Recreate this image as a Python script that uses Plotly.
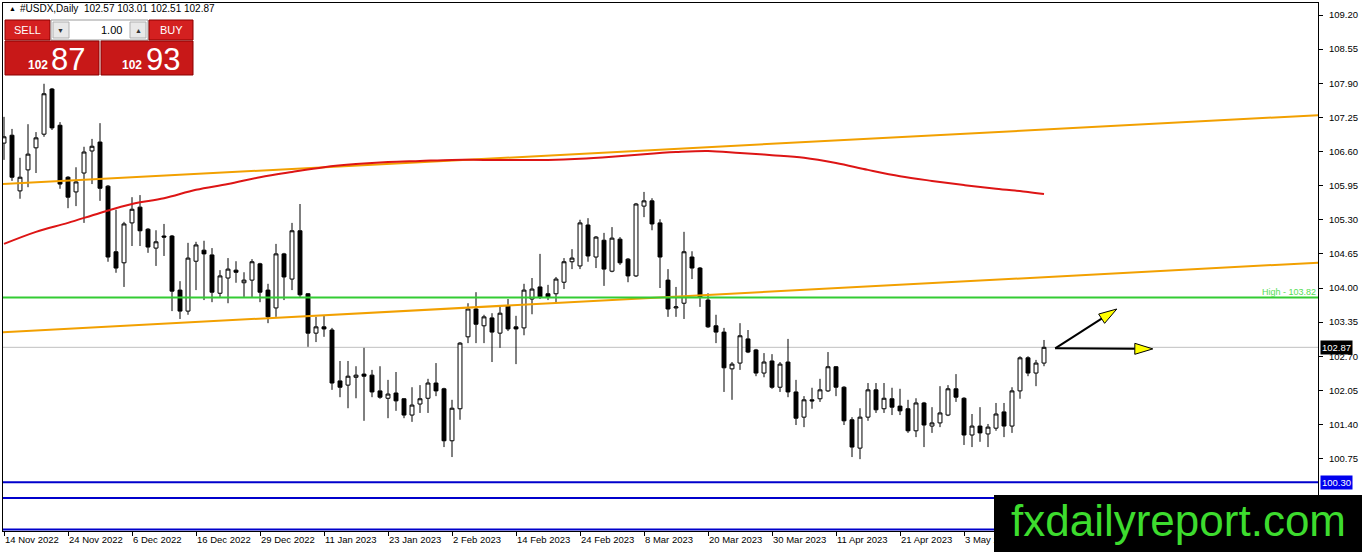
import plotly.graph_objects as go
import math

# ---------------- data ----------------
symbol = "#USDX,Daily"
tick_labels = ["14 Nov 2022", "24 Nov 2022", "6 Dec 2022", "16 Dec 2022", "29 Dec 2022",
               "11 Jan 2023", "23 Jan 2023", "2 Feb 2023", "14 Feb 2023", "24 Feb 2023",
               "8 Mar 2023", "20 Mar 2023", "30 Mar 2023", "11 Apr 2023", "21 Apr 2023",
               "3 May 2023"]
tick_bars = [0, 8, 16, 24, 32, 40, 48, 56, 64, 72, 80, 88, 96, 104, 112, 120]

open_ = [
    106.76, 106.91, 105.85, 106.25, 106.67, 106.93, 107.79, 107.10, 106.11, 105.83,
    106.19, 106.61, 106.78, 105.94, 104.69, 104.48, 105.24, 105.54, 105.12, 104.76,
    104.99, 104.99, 103.96, 103.56, 104.51, 104.72, 104.63, 103.90, 104.19, 104.34,
    104.10, 104.15, 104.46, 103.96, 103.62, 104.65, 104.17, 105.09, 103.89, 103.14,
    103.26, 103.20, 102.23, 102.15, 102.30, 102.36, 102.34, 102.04, 101.90, 102.00,
    101.89, 101.58, 101.79, 101.90, 102.19, 102.08, 101.09, 101.70, 103.07, 103.60,
    103.28, 103.43, 103.14, 103.66, 103.26, 103.24, 103.79, 104.02, 103.89, 103.89,
    104.11, 104.50, 104.42, 105.20, 104.59, 104.91, 104.32, 104.93, 104.55, 104.23,
    105.56, 105.66, 105.24, 104.15, 103.62, 103.71, 104.59, 104.38, 103.77, 103.28,
    103.16, 102.46, 102.57, 103.03, 102.82, 102.38, 102.61, 102.11, 102.59, 102.02,
    101.54, 101.87, 101.89, 102.04, 102.50, 102.11, 101.49, 100.95, 101.54, 102.06,
    101.70, 101.89, 101.75, 101.70, 101.28, 101.81, 101.37, 101.43, 101.58, 102.08,
    101.90, 101.20, 101.37, 101.22, 101.33, 101.64, 101.37, 102.04, 102.67, 102.38,
    102.57]
high = [
    107.26, 107.03, 106.48, 107.12, 106.97, 107.89, 107.81, 107.16, 106.13, 106.30,
    106.69, 106.84, 107.14, 105.96, 105.49, 105.26, 105.73, 105.77, 105.14, 105.10,
    105.22, 105.01, 104.13, 104.86, 104.88, 104.90, 104.76, 104.34, 104.57, 104.51,
    104.30, 104.55, 104.48, 104.08, 104.84, 104.67, 105.24, 105.60, 103.90, 103.45,
    103.47, 103.24, 102.61, 102.61, 102.51, 102.86, 102.44, 102.51, 102.25, 102.40,
    101.90, 102.11, 102.15, 102.27, 102.57, 102.10, 101.87, 102.97, 103.71, 103.92,
    103.49, 103.52, 103.64, 103.79, 103.47, 104.08, 104.19, 104.65, 104.06, 104.21,
    104.57, 104.74, 105.30, 105.33, 104.99, 105.05, 105.16, 104.97, 104.57, 105.62,
    105.83, 105.71, 105.31, 104.36, 104.02, 105.07, 104.70, 104.40, 103.90, 103.49,
    103.24, 102.59, 103.33, 103.20, 102.84, 102.76, 102.74, 102.59, 103.03, 102.25,
    101.94, 102.10, 102.27, 102.78, 102.51, 102.13, 101.54, 101.71, 102.19, 102.19,
    102.19, 102.10, 102.08, 101.87, 101.90, 101.83, 101.73, 102.13, 102.15, 102.36,
    101.92, 101.60, 101.73, 101.41, 101.81, 101.81, 102.11, 102.70, 102.70, 102.63,
    103.01]
low = [
    106.44, 106.04, 105.70, 105.92, 106.19, 106.88, 107.01, 105.89, 105.52, 105.56,
    105.24, 105.98, 105.66, 104.50, 104.29, 104.02, 104.80, 104.80, 104.67, 104.42,
    104.61, 103.56, 103.41, 103.49, 103.96, 103.77, 103.73, 103.83, 103.71, 104.10,
    103.83, 103.81, 103.73, 103.33, 103.45, 103.77, 103.96, 103.83, 102.88, 102.97,
    103.07, 102.06, 101.92, 101.71, 101.90, 101.47, 101.92, 101.89, 101.52, 101.66,
    101.52, 101.45, 101.62, 101.62, 101.94, 100.97, 100.78, 101.49, 102.95, 102.95,
    102.95, 102.59, 102.86, 103.18, 102.55, 103.10, 103.50, 103.79, 103.77, 103.73,
    103.98, 104.36, 104.36, 104.50, 104.38, 104.04, 104.30, 104.44, 104.11, 104.21,
    105.35, 105.10, 104.00, 103.45, 103.45, 103.41, 104.17, 103.64, 103.24, 102.95,
    102.02, 101.87, 102.44, 102.76, 102.32, 102.30, 102.08, 102.02, 101.92, 101.39,
    101.35, 101.70, 101.83, 102.02, 101.94, 101.39, 100.78, 100.74, 101.47, 101.62,
    101.62, 101.58, 101.58, 101.24, 101.16, 100.97, 101.24, 101.35, 101.56, 101.83,
    101.01, 100.97, 101.07, 100.97, 101.28, 101.16, 101.24, 101.89, 102.32, 102.13,
    102.51]
close = [
    106.88, 106.11, 106.11, 106.55, 106.86, 107.70, 107.05, 105.98, 105.73, 106.02,
    106.59, 106.70, 105.90, 104.59, 104.38, 105.22, 105.50, 105.09, 104.78, 104.88,
    104.97, 103.94, 103.56, 104.57, 104.82, 104.65, 103.92, 104.23, 104.36, 104.30,
    104.15, 104.50, 103.92, 103.45, 104.65, 104.21, 105.09, 103.87, 103.14, 103.26,
    103.22, 102.19, 102.11, 102.32, 102.34, 102.32, 102.02, 101.92, 101.98, 101.85,
    101.58, 101.77, 101.89, 102.19, 102.04, 101.09, 101.71, 102.95, 103.60, 103.31,
    103.45, 103.16, 103.52, 103.22, 103.22, 103.96, 103.98, 103.83, 103.83, 104.17,
    104.50, 104.57, 105.24, 104.61, 104.97, 104.36, 104.95, 104.48, 104.23, 105.60,
    105.66, 105.22, 104.59, 103.60, 103.64, 104.69, 104.38, 103.83, 103.26, 103.16,
    102.48, 102.55, 103.09, 102.78, 102.38, 102.59, 102.11, 102.55, 102.02, 101.52,
    101.87, 101.85, 102.06, 102.50, 102.11, 101.47, 100.97, 101.54, 102.06, 101.68,
    101.90, 101.73, 101.66, 101.28, 101.81, 101.39, 101.43, 101.62, 102.08, 101.92,
    101.20, 101.37, 101.24, 101.35, 101.60, 101.37, 102.04, 102.67, 102.38, 102.57,
    102.87]
bars = list(range(len(close)))

ma_bars = [0, 4, 8, 12, 16, 20, 24, 28, 32, 36, 40, 44, 48, 52, 56, 60, 64, 68, 72, 76,
           80, 84, 88, 92, 96, 100, 104, 108, 112, 116, 120, 124, 128, 130]
ma_vals = [104.84, 105.07, 105.24, 105.43, 105.60, 105.71, 105.87, 105.98, 106.11, 106.21,
           106.30, 106.36, 106.40, 106.42, 106.44, 106.44, 106.44, 106.44, 106.46, 106.50,
           106.55, 106.59, 106.61, 106.57, 106.53, 106.48, 106.38, 106.25, 106.13, 106.04,
           105.96, 105.89, 105.83, 105.79]

trend_bars = [0, 164]
upper_trend = [105.98, 107.29]
lower_trend = [103.16, 104.48]

high_level = 103.82
blue_levels = [100.30, 100.00, 99.40]
bid = 102.87
ask_pips = "93"
bid_big = "87"
price_handle = "102"
lot = "1.00"

arrow_start = (131.4, 102.85)
arrow_ends = [(139.1, 103.60), (143.6, 102.84)]

y_ticks = [100.75, 101.40, 102.05, 102.70, 103.35, 104.00, 104.65, 105.30,
           105.95, 106.60, 107.25, 107.90, 108.55, 109.20]

# ---------------- geometry ----------------
W, H = 1362, 552
PL, PR, PT, PB = 3, 1318, 3, 531          # plot area in pixels
x_range = [-0.125, 164.25]
y_range = [99.3714, 109.4286]
sx = (PR - PL) / (x_range[1] - x_range[0])
sy = (PB - PT) / (y_range[1] - y_range[0])


def px(x):
    return (x - PL) / (PR - PL)


def py(y):
    return (PB - y) / (PB - PT)


FONT = "Liberation Sans, Arial, sans-serif"

fig = go.Figure()
fig.add_trace(go.Candlestick(
    x=bars, open=open_, high=high, low=low, close=close,
    increasing=dict(line=dict(color="black", width=1), fillcolor="white"),
    decreasing=dict(line=dict(color="black", width=1), fillcolor="black"),
    whiskerwidth=0, hoverinfo="skip", showlegend=False))


def extend(xs, ys):
    slope = (ys[1] - ys[0]) / (xs[1] - xs[0])
    xa, xb = x_range[0] - 1, x_range[1] + 1
    return [xa, xb], [ys[0] + slope * (xa - xs[0]), ys[0] + slope * (xb - xs[0])]


for tl in (upper_trend, lower_trend):
    ex, ey = extend(trend_bars, tl)
    fig.add_trace(go.Scatter(x=ex, y=ey, mode="lines", line=dict(color="#f2a000", width=2),
                             hoverinfo="skip", showlegend=False))

fig.add_trace(go.Scatter(x=ma_bars, y=ma_vals, mode="lines",
                         line=dict(color="#dd1515", width=2, shape="spline"),
                         hoverinfo="skip", showlegend=False))

shapes = []
shapes.append(dict(type="line", xref="paper", x0=0, x1=1, yref="y", y0=bid, y1=bid,
                   line=dict(color="#c0c0c0", width=1), layer="below"))
shapes.append(dict(type="line", xref="paper", x0=0, x1=1, yref="y", y0=high_level, y1=high_level,
                   line=dict(color="#33cc33", width=2), layer="above"))
for lv in blue_levels:
    shapes.append(dict(type="line", xref="paper", x0=0, x1=1, yref="y", y0=lv, y1=lv,
                       line=dict(color="#0000cc", width=2), layer="above"))

# arrows (yellow heads with black outline)
for (ex_, ey_) in arrow_ends:
    x0, y0 = arrow_start
    dx = (ex_ - x0) * sx
    dy = (ey_ - y0) * sy
    L = math.hypot(dx, dy)
    ux, uy = dx / L, dy / L
    hl, hw = 18, 5.5
    bx, by = dx - hl * ux, dy - hl * uy
    nx, ny = -uy, ux
    c1 = (bx + hw * nx, by + hw * ny)
    c2 = (bx - hw * nx, by - hw * ny)

    def d(p):
        return (x0 + p[0] / sx, y0 + p[1] / sy)
    b = d((bx, by))
    p1, p2 = d(c1), d(c2)
    shapes.append(dict(type="line", xref="x", yref="y", x0=x0, y0=y0, x1=b[0], y1=b[1],
                       line=dict(color="black", width=2)))
    shapes.append(dict(type="path", xref="x", yref="y",
                       path=f"M {ex_},{ey_} L {p1[0]},{p1[1]} L {p2[0]},{p2[1]} Z",
                       fillcolor="#ffff00", line=dict(color="black", width=1)))


def rect(x0, y0, x1, y1, fill, line="#8b0000", lw=1):
    shapes.append(dict(type="rect", xref="paper", yref="paper", x0=px(x0), x1=px(x1),
                       y0=py(y1), y1=py(y0), fillcolor=fill, line=dict(color=line, width=lw),
                       layer="above"))


# trading panel
rect(5, 20, 50, 40, "#d42020")
rect(51, 20, 148, 40, "white", "#9a9a9a")
rect(53, 22, 69, 38, "#e8e8e8", "#b0b0b0")
rect(130, 22, 146, 38, "#e8e8e8", "#b0b0b0")
rect(149, 20, 193, 40, "#d42020")
rect(5, 41, 99, 75, "#c81818")
rect(101, 41, 193, 75, "#c81818")
# watermark box
rect(994, 495, 1362, 552, "black", "black", 0)

ann = []


def text(x, y, t, size, color="black", xanchor="center", yanchor="middle", **kw):
    ann.append(dict(xref="paper", yref="paper", x=px(x), y=py(y), text=t, showarrow=False,
                    xanchor=xanchor, yanchor=yanchor,
                    font=dict(family=FONT, size=size, color=color), **kw))


text(7, 9, "▲", 7, xanchor="left")
text(18, 9, f"{symbol}  {open_[-1]:.2f} {high[-1]:.2f} {low[-1]:.2f} {close[-1]:.2f}", 10, xanchor="left")
text(27, 30, "SELL", 11, "white")
text(171, 30, "BUY", 11, "white")
text(61, 30, "▼", 7, "#333333")
text(138, 30, "▲", 7, "#333333")
text(124, 30, lot, 11, xanchor="right")
text(38, 65, f"<b>{price_handle}</b>", 12, "white")
text(68, 59, bid_big, 31, "white")
text(132, 65, f"<b>{price_handle}</b>", 12, "white")
text(163, 59, ask_pips, 31, "white")
text(1178, 520, "fxdailyreport.com", 44, "#3ddc2e")

ann.append(dict(xref="paper", yref="y", x=1, y=high_level, text=f"High - {high_level:.2f}", showarrow=False,
                xanchor="right", yanchor="bottom", yshift=-2,
                font=dict(family=FONT, size=9, color="#55dd55")))
ann.append(dict(xref="paper", yref="y", x=1, xshift=2, y=bid, text=f"{bid:.2f}", showarrow=False,
                xanchor="left", yanchor="middle", bgcolor="black", borderpad=1,
                font=dict(family=FONT, size=9.5, color="white")))
ann.append(dict(xref="paper", yref="y", x=1, xshift=2, y=blue_levels[0], text=f"{blue_levels[0]:.2f}",
                showarrow=False, xanchor="left", yanchor="middle", bgcolor="#0000ee", borderpad=1,
                font=dict(family=FONT, size=9.5, color="white")))

fig.update_layout(
    template="none", width=W, height=H,
    margin=dict(l=PL, r=W - PR, t=PT, b=H - PB),
    paper_bgcolor="white", plot_bgcolor="white", showlegend=False,
    shapes=shapes, annotations=ann,
    xaxis=dict(range=x_range, rangeslider=dict(visible=False), showgrid=False, zeroline=False,
               tickmode="array", tickvals=tick_bars, ticktext=tick_labels,
               ticks="outside", ticklen=4, tickcolor="black", ticklabelposition="outside right",
               showline=True, linecolor="black", linewidth=1, mirror=True, automargin=False,
               tickfont=dict(family=FONT, size=9.5, color="black")),
    yaxis=dict(range=y_range, side="right", showgrid=False, zeroline=False,
               tickmode="array", tickvals=y_ticks, ticktext=[f"{v:.2f}" for v in y_ticks],
               ticks="outside", ticklen=4, tickcolor="black", ticklabelstandoff=4,
               showline=True, linecolor="black", linewidth=1, mirror=True, automargin=False,
               tickfont=dict(family=FONT, size=9.5, color="black")),
)

fig.write_html("out.html", config={"displayModeBar": False, "staticPlot": True},
               post_script="document.body.style.margin='0';document.body.style.overflow='hidden';")
